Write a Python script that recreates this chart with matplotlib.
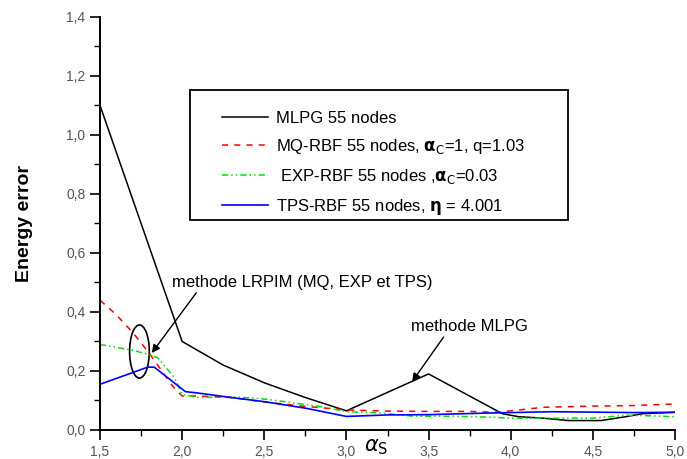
import matplotlib
matplotlib.use("Agg")
import matplotlib.pyplot as plt
from matplotlib.patches import Ellipse, Rectangle
from matplotlib.ticker import MultipleLocator, FuncFormatter

# MLPG 55 nodes
mlpg_x = [1.5, 2.0, 2.25, 2.5, 2.75, 3.0, 3.5, 3.95, 4.05, 4.2, 4.35, 4.55, 4.7, 4.8, 5.0]
mlpg_y = [1.10, 0.30, 0.22, 0.16, 0.11, 0.065, 0.19, 0.055, 0.045, 0.04, 0.032, 0.032, 0.045, 0.055, 0.06]

# MQ-RBF 55 nodes
mq_x = [1.5, 1.6, 1.7, 1.8, 1.94, 2.0, 2.1, 2.3, 2.5, 2.75, 3.0, 3.25, 3.5, 3.75, 3.9, 4.0, 4.2, 4.5, 4.75, 5.0]
mq_y = [0.44, 0.39, 0.33, 0.26, 0.15, 0.115, 0.115, 0.11, 0.095, 0.08, 0.068, 0.064, 0.063, 0.063, 0.06, 0.065, 0.077, 0.081, 0.083, 0.088]

# EXP-RBF 55 nodes
exp_x = [1.5, 1.7, 1.8, 1.85, 1.95, 2.0, 2.1, 2.3, 2.45, 2.6, 2.7, 2.85, 3.0, 3.2, 3.4, 3.7, 3.9,
         4.0, 4.3, 4.5, 4.7, 4.85, 5.0]
exp_y = [0.29, 0.27, 0.255, 0.245, 0.18, 0.12, 0.11, 0.112, 0.108, 0.098, 0.09, 0.079, 0.062, 0.058,
         0.047, 0.046, 0.043, 0.04, 0.04, 0.04, 0.05, 0.048, 0.045]

# TPS-RBF 55 nodes
tps_x = [1.5, 1.5, 1.79, 1.83, 2.02, 2.1, 2.3, 2.5, 2.75, 3.0, 3.25, 3.5, 3.83, 4.25, 4.75, 5.0]
tps_y = [0.195, 0.155, 0.213, 0.213, 0.13, 0.125, 0.11, 0.096, 0.074, 0.046, 0.051, 0.052, 0.057, 0.062, 0.059, 0.06]

labels = [
    "MLPG 55 nodes",
    r"MQ-RBF 55 nodes, $\mathbf{\alpha}_\mathrm{C}$=1, q=1.03",
    r" EXP-RBF 55 nodes ,$\mathbf{\alpha}_\mathrm{C}$=0.03",
    r"TPS-RBF 55 nodes, $\mathbf{\eta}$ = 4.001",
]

plt.rcParams["font.family"] = ["Liberation Sans", "DejaVu Sans"]
plt.rcParams["mathtext.fontset"] = "dejavusans"

fig = plt.figure(figsize=(6.87, 4.59), dpi=100)
ax = fig.add_axes([0.1456, 0.0632, 0.8369, 0.8998])

ax.plot(mlpg_x, mlpg_y, color="black", lw=1.1, label=labels[0])
ax.plot(mq_x, mq_y, color="red", lw=1.1, ls=(0, (4, 4)), label=labels[1])
ax.plot(exp_x, exp_y, color="#00e000", lw=1.1, ls=(0, (4, 2, 1, 2, 1, 2)), label=labels[2])
ax.plot(tps_x, tps_y, color="blue", lw=1.2, label=labels[3])

ax.set_xlim(1.5, 5.0)
ax.set_ylim(0.0, 1.4)
ax.spines["top"].set_visible(False)
ax.spines["right"].set_visible(False)
ax.spines["left"].set_linewidth(1.4)
ax.spines["bottom"].set_linewidth(1.4)
ax.xaxis.set_major_locator(MultipleLocator(0.5))
ax.xaxis.set_minor_locator(MultipleLocator(0.25))
ax.yaxis.set_major_locator(MultipleLocator(0.2))
ax.yaxis.set_minor_locator(MultipleLocator(0.1))
fmt = FuncFormatter(lambda v, p: f"{v:.1f}".replace(".", ","))
ax.xaxis.set_major_formatter(fmt)
ax.yaxis.set_major_formatter(fmt)
ax.tick_params(which="major", direction="out", length=7, width=1.2, labelsize=10, labelcolor="#555555")
ax.tick_params(which="minor", direction="out", length=4, width=1.0)

ax.set_ylabel("Energy error", fontsize=14, fontweight="bold", labelpad=24)
ax.text(0.48, -0.017, r"$\alpha_\mathrm{S}$", transform=ax.transAxes, fontsize=15,
        ha="center", va="top")

# legend frame drawn separately so the padding can match the original
ax.add_patch(Rectangle((0.1565, 0.508), 0.6575, 0.315, transform=ax.transAxes,
                       fill=False, edgecolor="black", lw=1.3, zorder=5))
leg = ax.legend(loc="upper left", bbox_to_anchor=(0.212, 0.772), frameon=False,
                fontsize=12, handlelength=2.75, handletextpad=0.5, borderpad=0,
                labelspacing=0.65, borderaxespad=0)

ax.add_patch(Ellipse((1.74, 0.266), 0.12, 0.18, fill=False, edgecolor="black", lw=1.2))
ax.annotate("methode LRPIM (MQ, EXP et TPS)", xy=(1.815, 0.261), xytext=(1.94, 0.50),
            fontsize=12, va="center",
            arrowprops=dict(arrowstyle="-|>", color="black", lw=1.0,
                            shrinkA=0, shrinkB=0, relpos=(0.1, 0.0)))
ax.annotate("methode MLPG", xy=(3.4, 0.164), xytext=(3.39, 0.35),
            fontsize=12, va="center",
            arrowprops=dict(arrowstyle="-|>", color="black", lw=1.0,
                            shrinkA=0, shrinkB=0, relpos=(0.3, 0.0)))

fig.savefig("out.png", dpi=100)
